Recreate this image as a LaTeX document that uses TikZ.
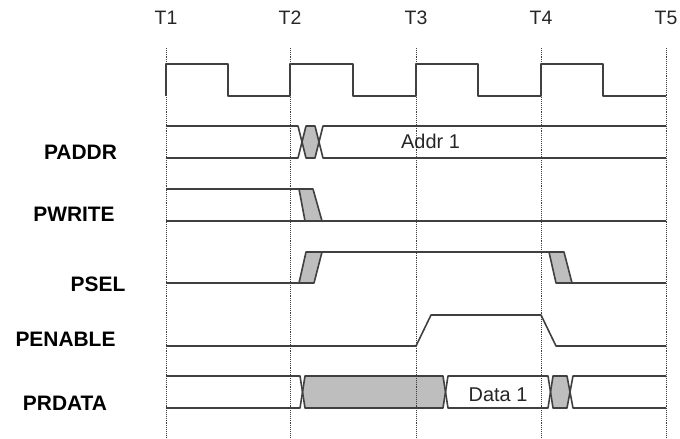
\documentclass[tikz,border=0pt]{standalone}
\usepackage{fontspec}
\setmainfont{Liberation Sans}
\definecolor{sig}{HTML}{404040}
\definecolor{tran}{HTML}{BEBEBE}
\tikzset{
  sigline/.style={draw=sig, line width=1.6bp, line join=round},
  tline/.style={draw=black!75, line width=0.9bp, densely dotted},
  tlabel/.style={anchor=base, inner sep=0pt, text=black!85, font=\fontsize{19.5}{23}\selectfont},
  siglabel/.style={anchor=base, inner sep=0pt, text=black, font=\fontsize{21}{25}\selectfont\bfseries},
  datalabel/.style={anchor=base, inner sep=0pt, text=black!85, font=\fontsize{20}{24}\selectfont}
}
\begin{document}
\begin{tikzpicture}[x=1bp, y=-1bp]
\useasboundingbox (0,0) rectangle (680,439);
% time markers
\foreach \n/\x in {1/166, 2/290, 3/416, 4/541, 5/666}{
  \coordinate (tt\n) at (\x,48);
  \coordinate (tb\n) at (\x,439);
  \node[tlabel] (T\n) at (\x,25) {T\n};
}
% fills first
\fill[tran] (302,142) -- (306,126) -- (315,126) -- (319,142) -- (315,158) -- (306,158) -- cycle;
\fill[tran] (302.5,392) -- (305,376) -- (443,376) -- (445.5,392) -- (443,408) -- (305,408) -- cycle;
\fill[tran] (550.5,392) -- (553,376) -- (567,376) -- (570,392) -- (567,408) -- (553,408) -- cycle;
\fill[tran] (299,189) -- (313,189) -- (322,221) -- (305,221) -- cycle;
\fill[tran] (299,283) -- (314,283) -- (322,252) -- (306,252) -- cycle;
\fill[tran] (549,252) -- (564,252) -- (572,283) -- (556,283) -- cycle;
% dotted time lines
\foreach \n in {1,...,5}{ \draw[tline] (tt\n) -- (tb\n); }
% clock
\draw[sigline] (166,96) -- (166,64) -- (228,64) -- (228,96) -- (290,96) -- (290,64)
  -- (353,64) -- (353,96) -- (416,96) -- (416,64) -- (478,64) -- (478,96)
  -- (541,96) -- (541,64) -- (603,64) -- (603,96) -- (666,96);
% PADDR
\draw[sigline] (166,126) -- (298,126) -- (302,142) -- (298,158) -- (166,158);
\draw[sigline] (302,142) -- (306,126) -- (315,126) -- (319,142) -- (315,158) -- (306,158) -- cycle;
\draw[sigline] (666,126) -- (323,126) -- (319,142) -- (323,158) -- (666,158);
% PWRITE
\draw[sigline] (166,189) -- (299,189);
\draw[sigline] (299,189) -- (313,189) -- (322,221) -- (305,221) -- cycle;
\draw[sigline] (166,221) -- (666,221);
% PSEL
\draw[sigline] (166,283) -- (299,283);
\draw[sigline] (299,283) -- (314,283) -- (322,252) -- (306,252) -- cycle;
\draw[sigline] (306,252) -- (549,252);
\draw[sigline] (549,252) -- (564,252) -- (572,283) -- (556,283) -- cycle;
\draw[sigline] (556,283) -- (666,283);
% PENABLE
\draw[sigline] (166,346) -- (416,346) -- (431,315) -- (541,315) -- (556,346) -- (666,346);
% PRDATA
\draw[sigline] (166,376) -- (300,376) -- (302.5,392) -- (300,408) -- (166,408);
\draw[sigline] (302.5,392) -- (305,376) -- (443,376) -- (445.5,392) -- (443,408) -- (305,408) -- cycle;
\draw[sigline] (445.5,392) -- (448,376) -- (548,376) -- (550.5,392) -- (548,408) -- (448,408) -- cycle;
\draw[sigline] (550.5,392) -- (553,376) -- (567,376) -- (570,392) -- (567,408) -- (553,408) -- cycle;
\draw[sigline] (666,376) -- (573,376) -- (570,392) -- (573,408) -- (666,408);
% texts
\node[datalabel] (addr) at (430.5,149) {Addr 1};
\node[datalabel] (data) at (498,401.5) {Data 1};
\node[siglabel] (paddr) at (80.5,160) {PADDR};
\node[siglabel] (pwrite) at (74,222) {PWRITE};
\node[siglabel] (psel) at (98,291.5) {PSEL};
\node[siglabel] (penable) at (65.5,346.5) {PENABLE};
\node[siglabel] (prdata) at (65,410) {PRDATA};
\end{tikzpicture}
\end{document}
